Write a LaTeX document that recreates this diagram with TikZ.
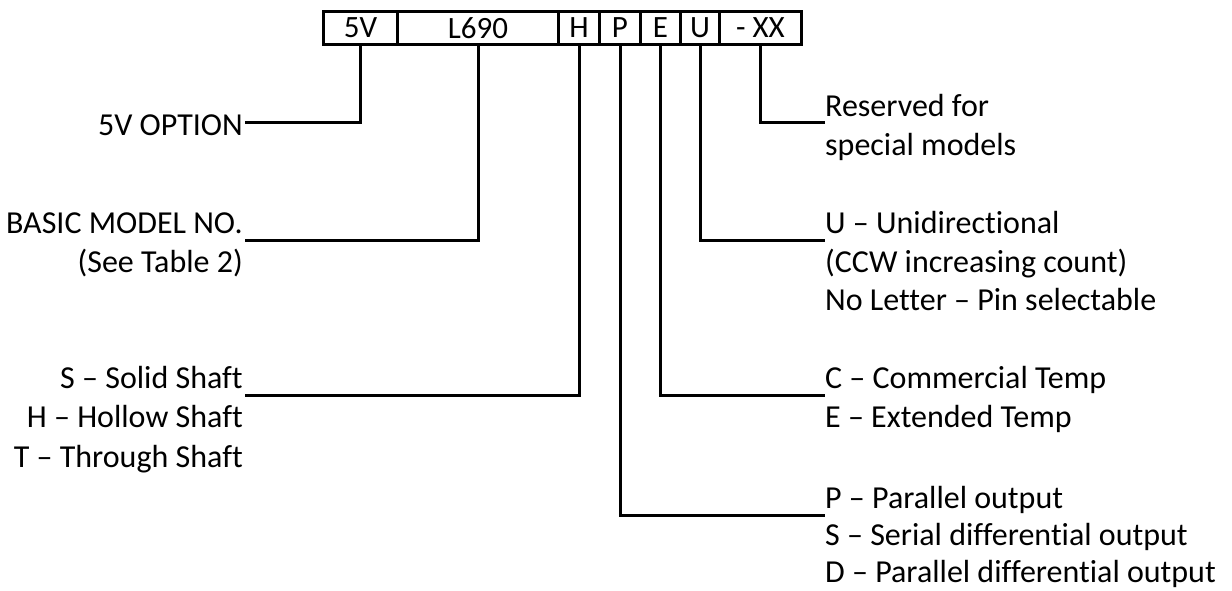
\documentclass[tikz,border=0pt]{standalone}
\usepackage{fontspec}
\setmainfont{Carlito}[Ligatures=NoCommon]
\begin{document}
\begin{tikzpicture}[x=1pt,y=-1pt,
  cell/.style={draw,line width=3pt,minimum height=33pt,inner sep=0pt,anchor=north west,font=\fontsize{31}{36}\selectfont},
  lline/.style={line width=3pt},
  lab/.style={inner sep=0pt,font=\fontsize{32}{38}\selectfont},
  labl/.style={lab,anchor=base east},
  labr/.style={lab,anchor=base west}]
\useasboundingbox (0,0) rectangle (1232,590);
% code boxes
\node[cell,minimum width=74pt]  (c5v)  at (322,10) {5V};
\node[cell,minimum width=161pt] (cl)   at (396,10) {L690};
\node[cell,minimum width=41pt]  (ch)   at (557,10) {H};
\node[cell,minimum width=41pt]  (cp)   at (598,10) {P};
\node[cell,minimum width=40pt]  (ce)   at (639,10) {E};
\node[cell,minimum width=39pt]  (cu)   at (679,10) {U};
\node[cell,minimum width=82pt]  (cx)   at (718,10) {- XX};
% left labels
\node[labl] (t5v) at (243,135) {5V OPTION};
\node[labl] (tb1) at (243,233) {BASIC MODEL NO.};
\node[labl] (tb2) at (243,272) {(See Table 2)};
\node[labl] (ts1) at (243,388) {S – Solid Shaft};
\node[labl] (ts2) at (243,427) {H – Hollow Shaft};
\node[labl] (ts3) at (243,467) {T – Through Shaft};
% right labels
\node[labr] (tx1) at (825,116) {Reserved for};
\node[labr] (tx2) at (825,155) {special models};
\node[labr] (tu1) at (825,233) {U – Unidirectional};
\node[labr] (tu2) at (825,272) {(CCW increasing count)};
\node[labr] (tu3) at (825,310) {No Letter – Pin selectable};
\node[labr] (te1) at (825,388) {C – Commercial Temp};
\node[labr] (te2) at (825,427) {E – Extended Temp};
\node[labr] (tp1) at (825,508) {P – Parallel output};
\node[labr] (tp2) at (825,545) {S – Serial differential output};
\node[labr] (tp3) at (825,582) {D – Parallel differential output};
% connector ends
\coordinate (e5v) at (245,122);
\coordinate (el)  at (245,240);
\coordinate (eh)  at (245,395);
\coordinate (ex)  at (825,122);
\coordinate (eu)  at (825,240);
\coordinate (ee)  at (825,395);
\coordinate (ep)  at (825,515);
% connectors
\draw[lline] (c5v.south) |- (e5v);
\draw[lline] (cl.south) |- (el);
\draw[lline] (ch.south) |- (eh);
\draw[lline] (cp.south) |- (ep);
\draw[lline] (ce.south) |- (ee);
\draw[lline] (cu.south) |- (eu);
\draw[lline] (cx.south) |- (ex);
\end{tikzpicture}
\end{document}
